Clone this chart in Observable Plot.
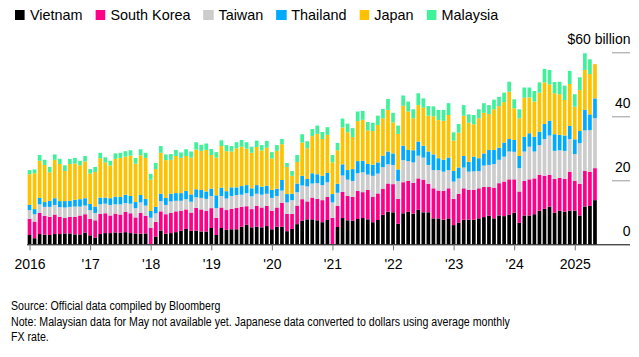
<!DOCTYPE html>
<html><head><meta charset="utf-8">
<script src="https://cdn.jsdelivr.net/npm/d3@7"></script>
<script src="https://cdn.jsdelivr.net/npm/@observablehq/plot@0.6"></script>
<style>
body{margin:0;width:639px;height:357px;position:relative;background:#fff;font-family:"Liberation Sans",Arial,sans-serif;overflow:hidden;color:#000}
#legend{position:absolute;left:15px;top:6px;font-size:15px;line-height:17px;white-space:nowrap;transform:scaleX(0.96);transform-origin:0 0}
.item{display:inline-block;margin-right:13.5px}
.sw{display:inline-block;width:10.4px;height:10px;margin-right:5.2px;vertical-align:baseline}
#chart{position:absolute;left:0;top:28px}
#foot{position:absolute;left:11px;top:299px;font-size:12px;line-height:15.7px;white-space:nowrap;transform:scaleX(0.885);transform-origin:0 0}
</style></head><body>
<div id="legend"></div>
<div id="chart"></div>
<div id="foot">Source: Official data compiled by Bloomberg<br>Note: Malaysian data for May not available yet. Japanese data converted to dollars using average monthly<br>FX rate.</div>
<script>
const series = ["Vietnam", "South Korea", "Taiwan", "Thailand", "Japan", "Malaysia"];
const colors = ["#000000", "#ff0088", "#cccccc", "#00aaff", "#ffc200", "#3ff29a"];
const years = [2016, 2017, 2018, 2019, 2020, 2021, 2022, 2023, 2024, 2025];
const tickLabels = ["2016", "'17", "'18", "'19", "'20", "'21", "'22", "'23", "'24", "2025"];
const yTicks = [0, 20, 40, 60];
const yTickLabels = ["0", "20", "40", "$60 billion"];

// monthly values, $ billion, Jan 2016 – May 2025
const vietnam = [2.9,1.9,3.2,3.0,2.9,3.2,3.2,3.4,3.4,3.1,3.1,3.6, 2.8,2.1,3.2,3.5,3.5,3.7,3.6,3.8,3.5,3.4,3.3,3.4, null,2.4,4.3,3.3,3.5,3.8,4.2,4.8,4.2,4.3,4.0,4.0, 5.1,2.9,5.1,4.5,4.7,4.7,5.5,6.1,5.3,5.5,5.3,5.7, 4.7,5.5,5.5,4.1,4.8,6.3,7.4,7.8,7.8,7.5,6.9,7.6, null,5.4,8.2,7.5,7.4,7.9,8.2,7.8,6.9,7.6,9.2,10.2, 10.0,6.4,9.7,10.2,9.6,10.8,10.0,10.0,8.1,8.1,7.7,8.1, 6.0,6.8,7.7,7.7,7.7,8.1,8.5,8.9,8.1,9.0,8.8,9.2, 9.9,6.7,9.0,9.0,9.4,10.5,11.1,11.8,9.9,10.5,10.2,10.5, 10.5,9.0,11.8,12.0,13.8];
const southKorea = [5.1,5.2,6.6,5.9,5.7,6.1,5.4,4.9,5.2,5.5,5.9,5.8, 5.1,5.4,6.3,6.2,5.5,5.9,5.7,6.3,6.2,5.0,6.5,5.5, 5.2,4.6,6.0,6.1,6.3,6.5,6.2,6.1,5.7,7.1,6.9,6.4, 6.2,5.4,6.4,6.2,6.4,6.7,6.2,5.8,5.7,6.5,6.2,6.3, 5.8,6.0,7.5,5.4,4.7,5.8,6.7,5.6,6.8,6.7,6.9,7.2, 8.3,6.6,8.2,7.6,7.4,8.8,8.1,9.2,8.0,8.3,8.2,8.8, 8.8,7.8,9.7,9.6,9.6,9.8,10.2,8.9,9.4,8.7,9.0,9.4, 8.2,9.0,9.8,9.3,9.3,9.4,9.4,9.0,9.6,10.1,10.8,11.1, 10.4,9.8,10.8,11.3,11.2,11.2,10.3,9.9,10.5,10.3,10.2,12.2, 9.3,9.9,11.1,10.6,10.0];
const taiwan = [2.7,2.3,2.7,2.8,3.1,3.0,3.0,3.2,3.1,3.2,2.8,2.7, 2.8,2.3,3.0,3.0,3.3,2.9,3.2,2.8,3.0,2.9,3.3,3.2, 3.1,2.7,3.2,2.9,3.6,3.3,3.2,3.2,3.4,3.3,3.6,3.8, 3.8,3.0,3.6,3.6,4.0,4.0,3.8,4.1,4.0,3.8,4.0,3.8, 4.0,3.6,3.8,3.6,4.3,4.2,4.3,4.7,4.4,4.9,4.7,4.6, 4.8,4.1,5.1,5.1,5.0,5.5,6.2,4.8,6.5,6.2,6.7,6.0, 6.0,5.6,6.9,6.2,6.4,7.1,6.9,5.9,5.7,6.4,6.0,5.7, 5.4,4.8,6.5,5.7,5.8,5.4,6.7,6.9,7.4,7.3,7.8,8.7, 8.6,7.3,9.2,10.2,8.4,9.3,11.5,12.3,8.8,8.6,8.8,10.2, 8.4,12.7,12.7,13.1,15.6];
const thailand = [1.6,1.6,2.0,1.5,1.9,2.1,1.9,2.0,1.9,2.1,2.3,2.3, 1.9,2.0,2.1,1.9,2.1,2.4,2.3,2.6,2.4,1.9,2.3,2.1, 2.1,2.0,2.3,2.2,2.4,2.4,2.4,2.6,2.3,2.5,2.5,2.3, 2.3,4.0,2.6,2.3,2.7,2.4,2.7,2.5,2.5,2.7,2.5,2.5, 2.5,2.3,3.3,2.6,2.0,2.7,3.0,2.3,3.2,2.8,2.9,2.9, 2.6,2.8,3.5,3.0,3.7,3.8,3.6,3.3,3.5,3.5,3.6,4.0, 3.6,3.6,4.5,3.5,3.8,4.4,3.7,4.2,4.9,3.7,3.7,3.9, 3.3,3.4,3.6,3.1,4.6,4.0,3.8,4.7,4.4,3.8,4.4,3.9, 3.7,3.8,4.6,4.2,4.6,4.2,4.7,4.6,5.2,4.8,4.8,4.1, 4.6,3.8,6.4,4.9,6.2];
const japan = [9.6,11.2,11.6,11.6,8.9,12.0,11.6,9.4,11.5,11.3,10.6,11.5, 9.5,10.8,12.3,11.0,10.2,11.8,12.2,11.9,12.6,12.0,12.4,12.8, 9.8,11.8,12.8,11.8,10.6,11.6,11.0,10.9,11.5,12.4,12.2,13.0, 10.5,11.8,13.0,12.5,11.2,12.2,12.3,11.4,11.1,11.9,11.3,11.9, 9.8,11.8,11.2,8.5,5.6,6.7,10.4,9.6,11.6,12.6,11.5,11.9, 9.9,10.5,11.5,11.8,10.0,12.5,12.8,10.5,10.5,11.7,11.7,13.0, 9.7,11.1,12.5,12.0,10.0,11.4,11.9,11.2,11.9,11.9,12.2,13.3, 9.5,10.9,12.6,12.2,10.1,12.5,12.7,11.2,12.7,13.0,12.6,14.8, 9.9,11.8,12.2,11.2,11.0,12.2,13.0,11.4,12.8,12.7,11.1,13.1, 10.2,12.8,12.5,12.6,10.7];
const malaysia = [1.3,1.2,1.8,1.6,1.7,1.7,1.6,1.8,1.6,1.8,1.4,1.7, 1.4,1.6,1.7,1.6,1.5,1.7,1.6,1.7,1.7,1.8,1.9,1.6, 1.8,1.9,2.1,1.8,1.8,1.9,1.7,2.1,1.9,2.3,1.9,2.0, 1.9,1.7,1.8,1.9,1.7,1.9,2.1,2.0,1.9,2.0,1.7,2.1, 2.0,1.8,1.6,1.2,1.5,2.2,2.6,2.2,2.2,2.6,2.2,2.4, 2.3,2.3,2.8,2.7,2.8,3.0,2.8,2.6,2.6,2.9,2.9,3.4, 3.0,2.6,3.2,3.1,2.8,3.7,2.9,3.0,3.1,3.2,3.4,3.7, 2.6,2.7,3.3,2.6,2.9,2.8,3.0,2.8,3.0,2.9,3.0,3.1, 2.8,2.8,3.2,3.1,3.3,3.2,4.2,4.5,3.5,3.9,4.5,4.1, 3.9,4.0,5.2,4.6,null];

const seriesValues = [vietnam, southKorea, taiwan, thailand, japan, malaysia];

const months = [];
for (const y of years) for (let m = 1; m <= 12; m++) if (y < 2025 || m <= 5) months.push(`${y}-${String(m).padStart(2, "0")}`);
const janKeys = years.map(y => `${y}-01`);
const tickMap = new Map(janKeys.map((k, i) => [k, tickLabels[i]]));
const yLabMap = new Map(yTicks.map((v, i) => [v, yTickLabels[i]]));

const data = [];
series.forEach((s, k) => seriesValues[k].forEach((v, i) => data.push({month: months[i], series: s, value: v})));

// legend
const legend = document.getElementById("legend");
series.forEach((s, k) => {
  const it = document.createElement("span");
  it.className = "item";
  it.innerHTML = `<span class="sw" style="background:${colors[k]}"></span>${s}`;
  legend.appendChild(it);
});

const chart = Plot.plot({
  width: 639,
  height: 262,
  marginLeft: 27,
  marginRight: 27,
  marginTop: 24.3,
  marginBottom: 45.7,
  style: {fontFamily: "'Liberation Sans', Arial, sans-serif", fontSize: "14px", color: "#000", background: "#fff"},
  x: {domain: months, range: [27, 597.5], paddingInner: 0.27, paddingOuter: 0.135, round: false, axis: null, label: null},
  y: {domain: [0, 60], axis: null, label: null},
  color: {domain: series, range: colors},
  marks: [
    Plot.barY(data, {x: "month", y: "value", fill: "series"}),
    // short grid stubs under the right-hand labels
    Plot.ruleY(yTicks.filter(d => d !== 0), {insetLeft: 585, insetRight: -18, stroke: "#999"}),
    Plot.axisY(yTicks, {anchor: "right", label: null, tickSize: 0, tickPadding: 18, textAnchor: "end", dy: -13, fill: "#000", fontSize: 14, tickFormat: d => yLabMap.get(d)}),
    Plot.ruleY([0], {stroke: "#000", insetRight: -18}),
    Plot.axisX(janKeys, {label: null, tickSize: 6, tickPadding: 8, stroke: "#777", fill: "#000", fontSize: 14, tickFormat: d => tickMap.get(d)})
  ]
});
document.getElementById("chart").appendChild(chart);
</script>
</body></html>
